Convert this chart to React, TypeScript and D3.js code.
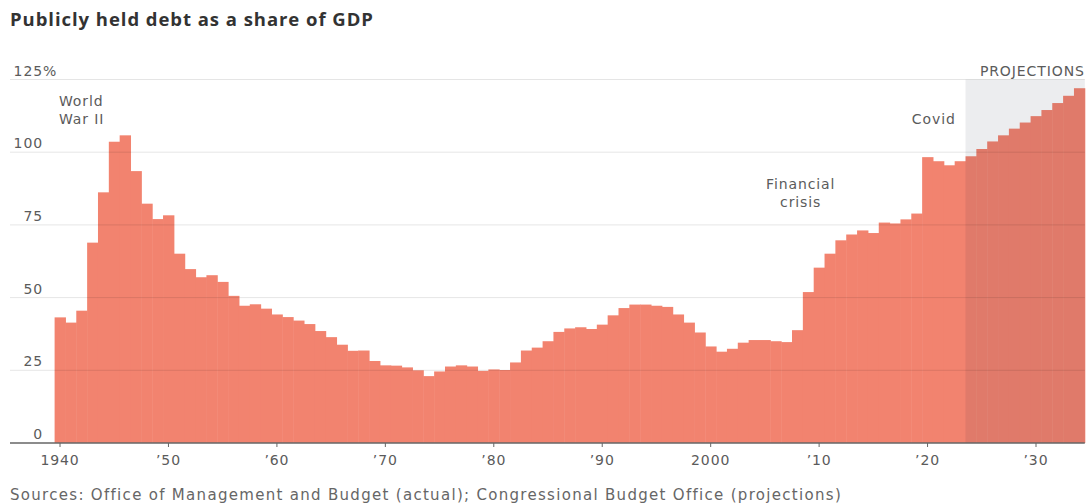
import { useEffect } from "react";
import * as d3 from "d3";

// Publicly held debt, % of GDP, fiscal years 1940-2034 (2024+ are CBO projections)
const years = d3.range(1940, 2035);
const debt = [
  43.2, 41.4, 45.5, 68.9, 86.2, 103.6, 105.8, 93.5, 82.3, 77.0,
  78.3, 65.1, 59.8, 57.0, 57.7, 55.4, 50.6, 47.2, 47.7, 46.2,
  44.2, 43.3, 42.1, 40.9, 38.5, 36.4, 33.8, 31.7, 31.8, 28.2,
  26.7, 26.6, 26.0, 25.0, 23.0, 24.6, 26.3, 26.7, 26.3, 24.8,
  25.3, 25.1, 27.7, 31.8, 32.8, 35.0, 38.2, 39.4, 39.8, 39.2,
  40.7, 43.9, 46.4, 47.6, 47.6, 47.2, 46.8, 44.2, 41.4, 38.0,
  33.2, 31.4, 32.4, 34.5, 35.4, 35.4, 35.0, 34.7, 38.8, 51.9,
  60.3, 65.1, 69.7, 71.7, 73.1, 72.2, 75.8, 75.5, 76.9, 78.9,
  98.3, 96.9, 95.5, 96.9, 98.6, 101.1, 103.7, 105.8, 108.1, 110.2,
  112.4, 114.5, 116.9, 119.4, 122.0,
];
const projectionStart = 2024;

const yTicks = [0, 25, 50, 75, 100, 125];
const xTicks = [1940, 1950, 1960, 1970, 1980, 1990, 2000, 2010, 2020, 2030];
const xTickLabels = ["1940", "\u201950", "\u201960", "\u201970", "\u201980", "\u201990", "2000", "\u201910", "\u201920", "\u201930"];

const annotations = [
  { lines: ["World", "War II"], year: 1939.9, value: 116, anchor: "start" },
  { lines: ["Financial", "crisis"], year: 2008.3, value: 87.5, anchor: "middle" },
  { lines: ["Covid"], year: 2022.6, value: 109.8, anchor: "end" },
];

const W = 1088;
const H = 504;
const FONT = "'DejaVu Sans', Verdana, sans-serif";
const TEXT = "#5b5b5b";
const LS = 0.9;

export default function App() {
  useEffect(() => {
    document.body.style.margin = "0";
  }, []);

  const x = d3.scaleLinear().domain([1939.5, 2034.5]).range([54.6, 1084.8]);
  const y = d3.scaleLinear().domain([0, 125]).range([443, 79.5]);
  const left = 10;
  const right = x(2034.5);
  const labelRight = 43;

  return (
    <svg width={W} height={H} style={{ display: "block", background: "#fff" }}>
      <text
        x={10}
        y={26}
        fontFamily="'Open Sans', sans-serif"
        fontWeight={700}
        fontSize={18.5}
        letterSpacing={0.95}
        fill="#333"
      >
        Publicly held debt as a share of GDP
      </text>

      {/* bars */}
      <g>
        {years.map((yr, i) => (
          <rect
            key={yr}
            x={x(yr - 0.5)}
            y={y(debt[i])}
            width={x(yr + 0.5) - x(yr - 0.5) + 0.5}
            height={y(0) - y(debt[i])}
            fill="#f2836f"
          />
        ))}
      </g>

      {/* projections shading */}
      <rect
        x={x(projectionStart - 0.5)}
        y={y(125)}
        width={right - x(projectionStart - 0.5)}
        height={y(0) - y(125)}
        fill="#0a1830"
        opacity={0.08}
      />
      <text x={right} y={75.5} textAnchor="end" fontFamily={FONT} fontSize={14} letterSpacing={LS} fill={TEXT}>
        PROJECTIONS
      </text>

      {/* grid + y labels */}
      {yTicks.filter((t) => t > 0).map((t) => (
        <line key={t} x1={left} x2={right} y1={y(t)} y2={y(t)} stroke="#000" strokeOpacity={0.1} />
      ))}
      {yTicks.map((t) => (
        <g key={t}>
          <text x={labelRight} y={y(t) - 4} textAnchor="end" fontFamily={FONT} fontSize={14} letterSpacing={LS} fill={TEXT}>
            {t}
          </text>
          {t === 125 ? (
            <text x={labelRight} y={y(t) - 4} fontFamily={FONT} fontSize={14} fill={TEXT}>
              %
            </text>
          ) : null}
        </g>
      ))}

      {/* x axis */}
      <line x1={left} x2={right} y1={y(0)} y2={y(0)} stroke="#666" strokeWidth={1.5} />
      {xTicks.map((t, i) => (
        <g key={t} transform={`translate(${x(t)},${y(0)})`}>
          <line y1={0} y2={4} stroke="#666" />
          <text y={22} textAnchor="middle" fontFamily={FONT} fontSize={14} letterSpacing={LS} fill={TEXT}>
            {xTickLabels[i]}
          </text>
        </g>
      ))}

      {/* annotations */}
      {annotations.map((a) => (
        <text
          key={a.lines[0]}
          x={x(a.year)}
          y={y(a.value)}
          textAnchor={a.anchor}
          fontFamily={FONT}
          fontSize={14}
          letterSpacing={LS}
          fill={TEXT}
        >
          {a.lines.map((l, j) => (
            <tspan key={l} x={x(a.year)} dy={j === 0 ? 0 : 18}>
              {l}
            </tspan>
          ))}
        </text>
      ))}

      <text x={10} y={500} fontFamily={FONT} fontSize={15} letterSpacing={1.3} fill="#666">
        Sources: Office of Management and Budget (actual); Congressional Budget Office (projections)
      </text>
    </svg>
  );
}
